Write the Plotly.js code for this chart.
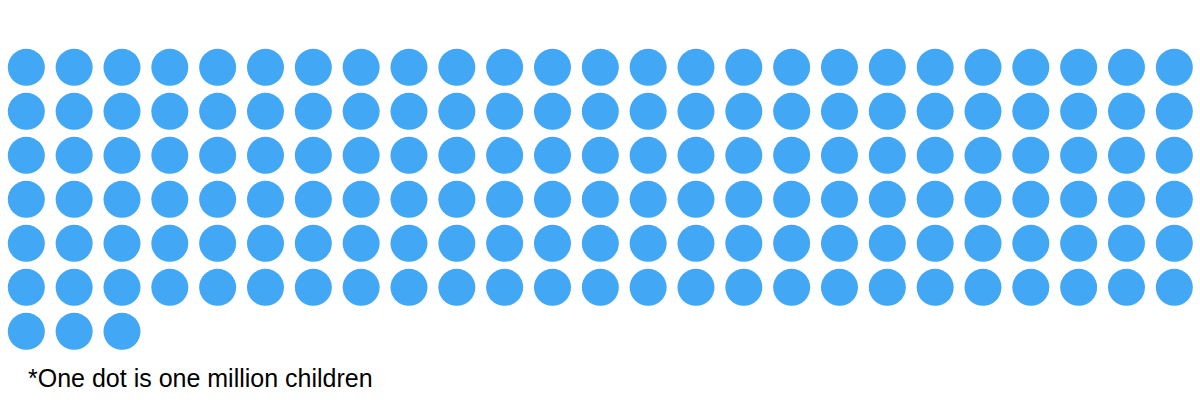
<!DOCTYPE html>
<html>
<head>
<meta charset="utf-8">
<script src="https://cdn.plot.ly/plotly-3.0.1.min.js"></script>
<style>html,body{margin:0;padding:0;background:#fff;}#chart{width:1200px;height:400px;}</style>
</head>
<body>
<div id="chart"></div>
<script>
// Data: number of children (millions), one dot = one million
var totalChildrenMillions = 153;
var dotsPerRow = 25;
var noteText = "*One dot is one million children";
var dotColor = "#42a8f5";

var xs = [], ys = [];
for (var i = 0; i < totalChildrenMillions; i++) {
  xs.push(i % dotsPerRow);
  ys.push(Math.floor(i / dotsPerRow));
}

var trace = {
  type: "scatter",
  mode: "markers",
  x: xs,
  y: ys,
  marker: {size: 37, color: dotColor, line: {width: 0}},
  hoverinfo: "none"
};

var layout = {
  width: 1200,
  height: 400,
  margin: {l: 0, r: 0, t: 0, b: 0},
  paper_bgcolor: "#fff",
  plot_bgcolor: "#fff",
  showlegend: false,
  xaxis: {range: [-0.55, 24.537], visible: false, fixedrange: true},
  yaxis: {range: [7.561, -1.53], visible: false, fixedrange: true},
  annotations: [{
    xref: "paper", yref: "paper",
    x: 26 / 1200, y: (400 - 378) / 400,
    xanchor: "left", yanchor: "middle",
    showarrow: false,
    text: noteText,
    font: {family: "Liberation Sans, Arial, sans-serif", size: 25, color: "#000"}
  }]
};

Plotly.newPlot("chart", [trace], layout, {displayModeBar: false, staticPlot: true});
</script>
</body>
</html>
